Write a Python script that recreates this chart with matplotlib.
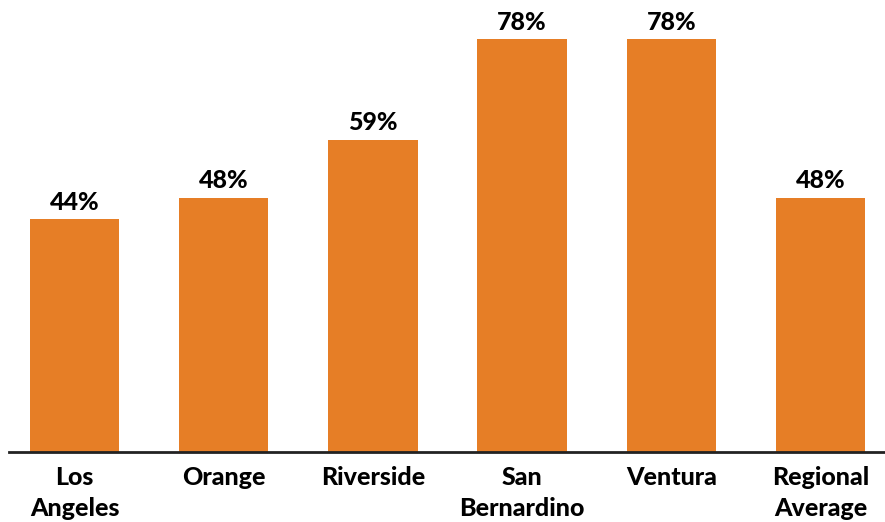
import matplotlib
matplotlib.use('Agg')
import matplotlib.pyplot as plt
import numpy as np

counties = ['Los\nAngeles', 'Orange', 'Riverside', 'San\nBernardino', 'Ventura', 'Regional\nAverage']
values = [44, 48, 59, 78, 78, 48]
value_labels = ['44%', '48%', '59%', '78%', '78%', '48%']

plt.rcParams['font.family'] = ['Lato', 'DejaVu Sans']

fig = plt.figure(figsize=(8.85, 5.22), dpi=100)
ax = fig.add_axes([0.0102, 0.134, 0.9898, 0.866])

x = np.arange(len(counties))
bars = ax.bar(x, values, width=0.6, color='#E67E26', zorder=2)

for b, lab in zip(bars, value_labels):
    ax.annotate(lab, (b.get_x() + b.get_width() / 2, b.get_height()),
                xytext=(0, 4), textcoords='offset points',
                ha='center', va='bottom', fontsize=18, fontweight='black')

ax.set_xlim(-0.439, 5.432)
ax.set_ylim(0, 85.4)
ax.set_xticks(x)
ax.set_xticklabels(counties, fontsize=18, fontweight='black', linespacing=1.4)
ax.tick_params(axis='x', length=0, pad=10)
ax.set_yticks([])
for s in ['top', 'right', 'left']:
    ax.spines[s].set_visible(False)
ax.spines['bottom'].set_linewidth(2)
ax.spines['bottom'].set_color('#222222')

fig.savefig('out.png', dpi=100)
